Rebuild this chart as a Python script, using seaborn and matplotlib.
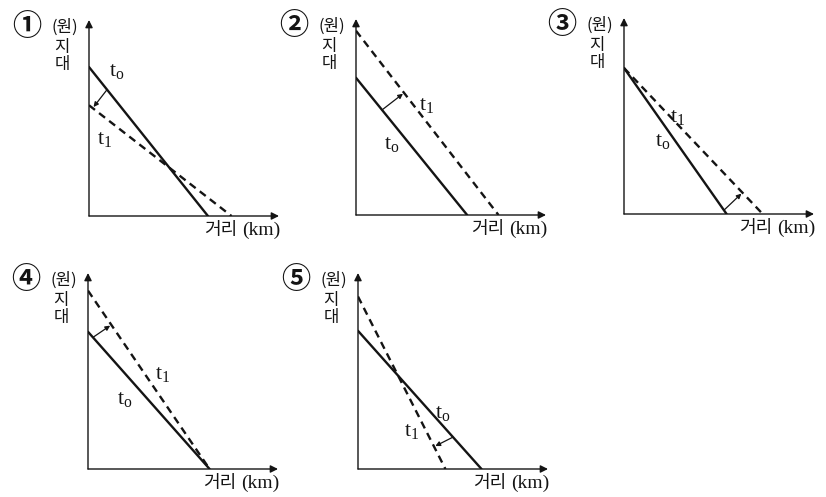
import matplotlib
matplotlib.use("Agg")
import matplotlib.pyplot as plt
import seaborn as sns
import numpy as np
import pandas as pd

# ---- data (relative units: each axis runs 0..10) ----
panel_marks = ["①", "②", "③", "④", "⑤"]
t0_yint = [7.6, 7.0, 7.45, 7.0, 7.05]
t0_xint = [6.26, 5.85, 5.4, 6.4, 6.5]
t1_yint = [5.65, 9.4, 7.45, 9.1, 8.8]
t1_xint = [7.5, 7.5, 7.3, 6.4, 4.6]
arrow_x = [0.95, 1.37, 5.26, 0.26, 5.0]          # where the shift arrow leaves t0
t0_label = [(1.47, 7.45), (1.89, 3.72), (2.05, 3.78), (1.95, 3.67), (4.47, 2.91)]
t1_label = [(0.84, 4.03), (3.74, 5.71), (2.84, 5.05), (3.95, 4.90), (2.84, 1.99)]
y_unit = "(원)"
y_name = "지\n대"
x_label_kr = "거리"
x_label_unit = "(km)"

# ---- layout (pixel origin of each panel's axes, from top-left) ----
W, H = 826, 497
origins = [(89, 216), (356, 215), (624, 214), (88, 469), (358, 469)]
AXW, AXH = 190, 196

sns.set_theme(style="white")
plt.rcParams["font.family"] = ["Noto Sans CJK KR", "DejaVu Sans"]
plt.rcParams["mathtext.fontset"] = "custom"
plt.rcParams["mathtext.rm"] = "Liberation Serif"
plt.rcParams["mathtext.it"] = "Liberation Serif:italic"

fig = plt.figure(figsize=(W / 100, H / 100), dpi=100)
fig.patch.set_facecolor("white")
INK = "#141414"
SX, SY = AXW / 10.0, AXH / 10.0


def foot_on_line(px, py, a_x, b_y):
    # perpendicular foot of (px,py) on line from (0,b_y) to (a_x,0), in pixel-like scale
    P = np.array([px * SX, py * SY])
    A = np.array([0.0, b_y * SY])
    B = np.array([a_x * SX, 0.0])
    d = (B - A) / np.linalg.norm(B - A)
    F = A + np.dot(P - A, d) * d
    return F[0] / SX, F[1] / SY


def label(ax, s, xy, off, **kw):
    ax.annotate(s, xy=xy, xycoords="axes fraction", xytext=off,
                textcoords="offset pixels", color=INK, annotation_clip=False, **kw)


for i in range(5):
    ox, oy = origins[i]
    ax = fig.add_axes([ox / W, (H - oy) / H, AXW / W, AXH / H])
    ax.set_facecolor("none")
    for s in ax.spines.values():
        s.set_visible(False)

    # axes with arrowheads
    for tip in [(1, 0), (0, 1)]:
        ax.annotate("", xy=tip, xytext=(0, 0), xycoords="axes fraction",
                    arrowprops=dict(arrowstyle="-|>", lw=1.0, color=INK,
                                    mutation_scale=11, shrinkA=0, shrinkB=0),
                    annotation_clip=False)

    df0 = pd.DataFrame({"x": [0, t0_xint[i]], "y": [t0_yint[i], 0]})
    df1 = pd.DataFrame({"x": [0, t1_xint[i]], "y": [t1_yint[i], 0]})
    sns.lineplot(data=df0, x="x", y="y", ax=ax, color=INK, lw=1.7,
                 sort=False, estimator=None)
    sns.lineplot(data=df1, x="x", y="y", ax=ax, color=INK, lw=1.7,
                 sort=False, estimator=None, linestyle=(0, (3.2, 2.2)))
    ax.set_xlabel("")
    ax.set_ylabel("")
    ax.set_xticks([])
    ax.set_yticks([])
    ax.set_xlim(0, 10)
    ax.set_ylim(0, 10)

    # shift arrow t0 -> t1
    sx = arrow_x[i]
    sy = t0_yint[i] * (1 - sx / t0_xint[i])
    ex, ey = foot_on_line(sx, sy, t1_xint[i], t1_yint[i])
    ax.annotate("", xy=(ex, ey), xytext=(sx, sy),
                arrowprops=dict(arrowstyle="-|>", lw=0.9, color=INK,
                                mutation_scale=7, shrinkA=0, shrinkB=1))

    # t labels
    ax.text(*t0_label[i], r"$\mathrm{t_o}$", fontsize=16, color=INK,
            ha="center", va="center")
    ax.text(*t1_label[i], r"$\mathrm{t_1}$", fontsize=16, color=INK,
            ha="center", va="center")

    # panel number
    label(ax, panel_marks[i], (0, 1), (-62, -6), fontsize=21, fontweight="bold",
          ha="center", va="center")
    # y label: (원) / 지 / 대
    label(ax, y_unit, (0, 1), (-24, -7), fontsize=12, ha="center", va="center")
    label(ax, y_name, (0, 1), (-27, -36), fontsize=12, ha="center", va="center",
          linespacing=0.95)
    # x label: 거리(km)
    label(ax, x_label_unit, (1, 0), (1, -14), fontsize=14, ha="right", va="center",
          family="Liberation Serif")
    label(ax, x_label_kr, (1, 0), (-42, -14), fontsize=13, ha="right", va="center")

fig.savefig("out.png", dpi=100, facecolor="white")
